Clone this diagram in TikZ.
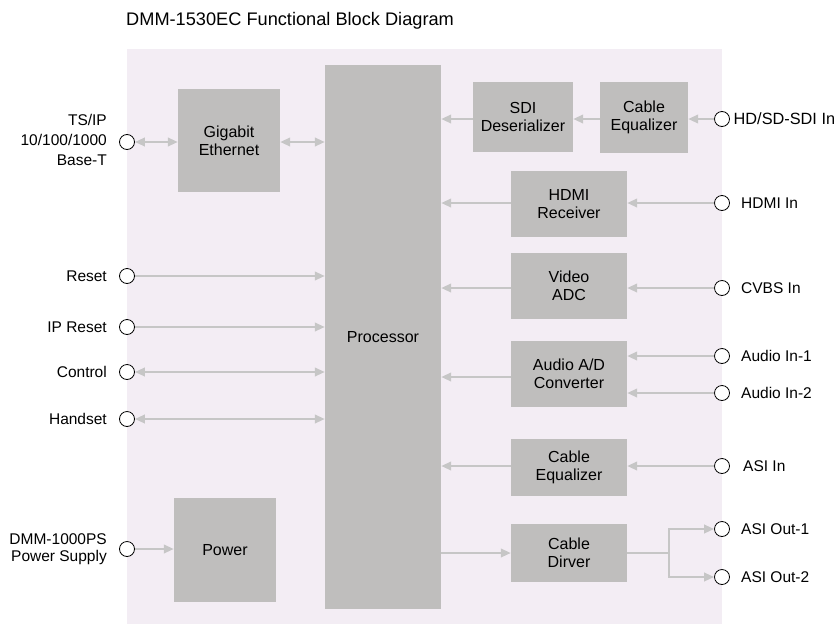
\documentclass[tikz,border=0pt]{standalone}
\usepackage{fontspec}
\setmainfont{Liberation Sans}
\usetikzlibrary{arrows.meta}
\definecolor{panelc}{HTML}{F3EDF4}
\definecolor{boxc}{HTML}{BFBEBD}
\definecolor{arrc}{HTML}{C6C6C6}
\tikzset{
  blk/.style={fill=boxc, draw=none, align=center, inner sep=0pt, font=\fontsize{16}{18}\selectfont},
  port/.style={circle, draw=black, fill=white, line width=0.8pt, minimum size=15pt, inner sep=0pt},
  plabel/.style={font=\fontsize{15.5}{17}\selectfont, inner sep=0pt},
  conn/.style={draw=arrc, line width=2.2pt},
  arr/.style={conn, -{Triangle[length=10pt,width=8.5pt]}},
  biarr/.style={conn, {Triangle[length=10pt,width=8.5pt]}-{Triangle[length=10pt,width=8.5pt]}},
}
\begin{document}
\begin{tikzpicture}[x=1pt,y=-1pt]
\useasboundingbox (0,0) rectangle (840,624);
% panel
\fill[panelc] (127,49) rectangle (722,624);
% title
\node[anchor=base west, inner sep=0pt, font=\fontsize{18.2}{21}\selectfont] (title) at (126,25) {DMM-1530EC Functional Block Diagram};
% blocks
\node[blk, minimum width=102pt, minimum height=103pt] (gig) at (229,140.5) {Gigabit\\Ethernet};
\node[blk, minimum width=116pt, minimum height=544pt] (proc) at (383,337) {Processor};
\node[blk, minimum width=100pt, minimum height=70pt] (sdi) at (523,117) {SDI\\Deserializer};
\node[blk, minimum width=88pt, minimum height=71pt] (ceq1) at (644,117.5) {Cable\\Equalizer};
\node[blk, minimum width=116pt, minimum height=66pt] (hdmi) at (569,204) {HDMI\\Receiver};
\node[blk, minimum width=116pt, minimum height=66pt] (vadc) at (569,286) {Video\\ADC};
\node[blk, minimum width=116pt, minimum height=66pt] (audio) at (569,374) {Audio A/D\\Converter};
\node[blk, minimum width=116pt, minimum height=57pt] (ceq2) at (569,467.5) {Cable\\Equalizer};
\node[blk, minimum width=116pt, minimum height=58pt] (cdrv) at (569,553) {Cable\\Dirver};
\node[blk, minimum width=102pt, minimum height=104pt] (pwr) at (225,550) {Power};
% left ports
\node[port] (tsip) at (127,142) {};
\node[port] (reset) at (127,276) {};
\node[port] (ipreset) at (127,327) {};
\node[port] (control) at (127,372) {};
\node[port] (handset) at (127,419) {};
\node[port] (psu) at (127,549) {};
% right ports
\node[port] (sdiin) at (722,119) {};
\node[port] (hdmiin) at (722,203) {};
\node[port] (cvbsin) at (722,288) {};
\node[port] (aud1) at (722,356) {};
\node[port] (aud2) at (722,393) {};
\node[port] (asiin) at (722,466) {};
\node[port] (asio1) at (722,529) {};
\node[port] (asio2) at (722,577) {};
% left labels
\node[plabel, anchor=east, align=right, font=\fontsize{15.5}{20}\selectfont] (ltsip) at (107,140) {TS/IP\\10/100/1000\\Base-T};
\node[plabel, anchor=east] (lreset) at (107,276) {Reset};
\node[plabel, anchor=east] (lipreset) at (107,327) {IP Reset};
\node[plabel, anchor=east] (lcontrol) at (107,372) {Control};
\node[plabel, anchor=east] (lhandset) at (107,419) {Handset};
\node[plabel, anchor=east, align=right, font=\fontsize{15.5}{17}\selectfont] (lpsu) at (107,549) {DMM-1000PS\\Power Supply};
% right labels
\node[plabel, anchor=west, font=\fontsize{16.3}{18}\selectfont] (lsdiin) at (733.5,119) {HD/SD-SDI In};
\node[plabel, anchor=west] (lhdmiin) at (741,203) {HDMI In};
\node[plabel, anchor=west] (lcvbsin) at (741,288) {CVBS In};
\node[plabel, anchor=west] (laud1) at (741,356) {Audio In-1};
\node[plabel, anchor=west] (laud2) at (741,393) {Audio In-2};
\node[plabel, anchor=west] (lasiin) at (743,466) {ASI In};
\node[plabel, anchor=west] (lasio1) at (741,529) {ASI Out-1};
\node[plabel, anchor=west] (lasio2) at (741,577) {ASI Out-2};
% connectors left
\draw[biarr] (tsip) -- (tsip -| gig.west);
\draw[biarr] (gig.east |- tsip) -- (tsip -| proc.west);
\draw[arr] (reset) -- (reset -| proc.west);
\draw[arr] (ipreset) -- (ipreset -| proc.west);
\draw[biarr] (control) -- (control -| proc.west);
\draw[biarr] (handset) -- (handset -| proc.west);
\draw[arr] (psu) -- (psu -| pwr.west);
% connectors right
\draw[arr] (sdiin) -- (sdiin -| ceq1.east);
\draw[arr] (ceq1.west |- sdiin) -- (sdiin -| sdi.east);
\draw[arr] (sdi.west |- sdiin) -- (sdiin -| proc.east);
\draw[arr] (hdmiin) -- (hdmiin -| hdmi.east);
\draw[arr] (hdmi.west |- hdmiin) -- (hdmiin -| proc.east);
\draw[arr] (cvbsin) -- (cvbsin -| vadc.east);
\draw[arr] (vadc.west |- cvbsin) -- (cvbsin -| proc.east);
\draw[arr] (aud1) -- (aud1 -| audio.east);
\draw[arr] (aud2) -- (aud2 -| audio.east);
\draw[arr] (audio.west |- 0,377) -- (proc.east |- 0,377);
\draw[arr] (asiin) -- (asiin -| ceq2.east);
\draw[arr] (ceq2.west |- asiin) -- (asiin -| proc.east);
\draw[arr] (proc.east |- cdrv) -- (cdrv.west);
\coordinate (br) at (669,553);
\draw[conn] (cdrv.east) -- (br);
\draw[arr] (br) |- (asio1);
\draw[arr] (br) |- (asio2);
\end{tikzpicture}
\end{document}
